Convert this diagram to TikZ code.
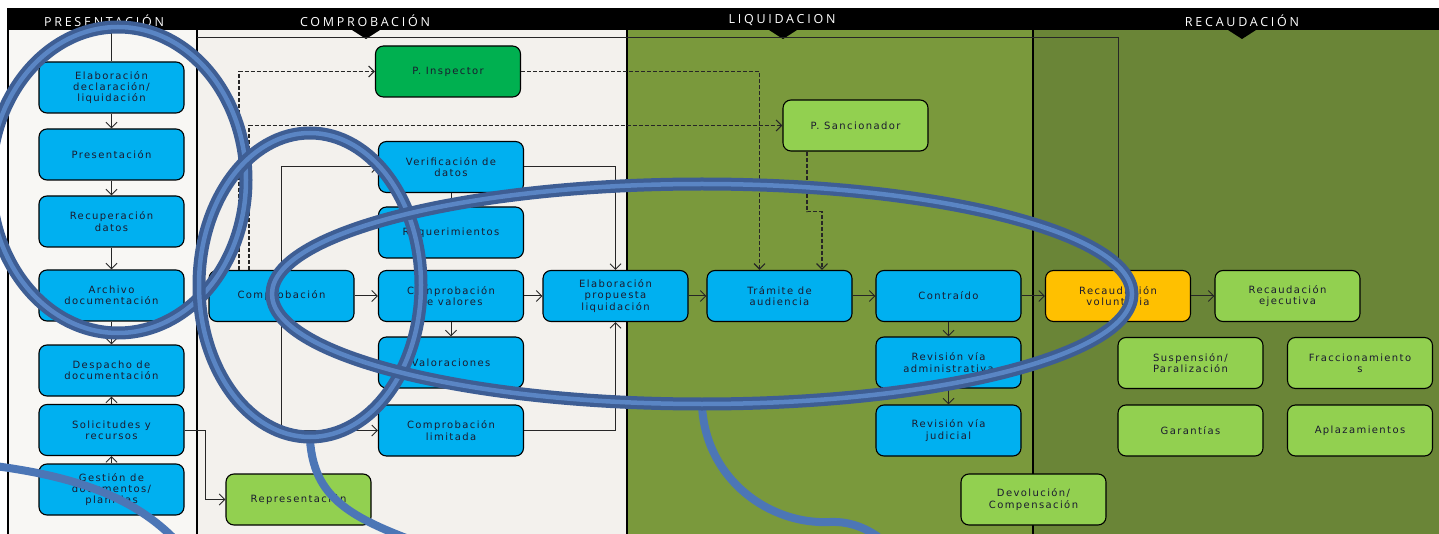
\documentclass[tikz,border=0pt]{standalone}
\usepackage{fontspec}
\setmainfont{DejaVu Sans}
\newfontfamily\boxfont[LetterSpace=14]{DejaVu Sans}
\newfontfamily\headfont[LetterSpace=22]{Open Sans}
\usetikzlibrary{arrows.meta}

\definecolor{lanePres}{HTML}{F8F7F4}
\definecolor{laneComp}{HTML}{F3F1ED}
\definecolor{laneLiq}{HTML}{7A993C}
\definecolor{laneRec}{HTML}{6A8537}
\definecolor{cyanbox}{HTML}{00B0F0}
\definecolor{greenbox}{HTML}{00B050}
\definecolor{limebox}{HTML}{92D050}
\definecolor{orangebox}{HTML}{FFC000}
\definecolor{boxtext}{HTML}{1B1B2F}
\definecolor{ringdark}{HTML}{3E5E94}
\definecolor{ringlight}{HTML}{5A85C4}
\definecolor{tailblue}{HTML}{4C76B6}

\tikzset{
  box/.style={draw=black, line width=1.1pt, rounded corners=8pt,
    minimum width=145pt, minimum height=51pt, inner sep=2pt, align=center,
    text=boxtext, font={\boxfont\fontsize{10}{11.2}\selectfont}},
  bluebox/.style={box, fill=cyanbox},
  greenbx/.style={box, fill=greenbox},
  limebx/.style={box, fill=limebox},
  orangebx/.style={box, fill=orangebox},
  headtext/.style={text=white, font={\headfont\fontsize{12.5}{13}\selectfont}, inner sep=0pt},
  flow/.style={draw=black!85, line width=1pt, -{Straight Barb[length=5.5pt,width=11pt]}},
  plainflow/.style={draw=black!85, line width=1pt},
  dashflow/.style={draw=black!85, line width=1.2pt, dash pattern=on 4pt off 2pt,
    -{Straight Barb[length=5.5pt,width=11pt]}},
  laneline/.style={draw=black, line width=1.3pt},
  ringouter/.style={draw=ringdark, line width=13pt},
  ringinner/.style={draw=ringlight, line width=4.5pt},
  tail/.style={draw=tailblue, line width=8pt, line cap=round},
}

\begin{document}
\begin{tikzpicture}[x=1pt, y=-1pt]
\useasboundingbox (0,0) rectangle (1439,534);
\clip (0,0) rectangle (1439,534);
\fill[white] (0,0) rectangle (1439,534);

% swim lanes
\fill[lanePres] (8,30) rectangle (197,534);
\fill[laneComp] (197,30) rectangle (627,534);
\fill[laneLiq] (627,30) rectangle (1033,534);
\fill[laneRec] (1033,30) rectangle (1439,534);
\draw[laneline] (8,30) -- (8,534);
\draw[laneline] (197,30) -- (197,534);
\draw[laneline] (627,30) -- (627,534);
\draw[laneline] (1033,30) -- (1033,534);

% header bar
\fill[black] (7,8) rectangle (1439,30);
\node[headtext] (hPres) at (104,20.5) {PRESENTACIÓN};
\node[headtext] (hComp) at (365,20.5) {COMPROBACIÓN};
\node[headtext] (hLiq) at (782,20.5) {LIQUIDACION};
\node[headtext] (hRec) at (1242,20.5) {RECAUDACIÓN};
\fill[black] (352,30) -- (380,30) -- (366,39) -- cycle;
\fill[black] (769,30) -- (797,30) -- (783,39) -- cycle;
\fill[black] (1228,30) -- (1256,30) -- (1242,39) -- cycle;

% presentación
\node[bluebox] (elab) at (111.5,87.5) {Elaboración\\declaración/\\liquidación};
\node[bluebox] (pres) at (111.5,154.5) {Presentación};
\node[bluebox] (recu) at (111.5,221.5) {Recuperación\\datos};
\node[bluebox] (arch) at (111.5,295.5) {Archivo\\documentación};
\node[bluebox] (desp) at (111.5,370.5) {Despacho de\\documentación};
\node[bluebox] (soli) at (111.5,430) {Solicitudes y\\recursos};
\node[bluebox] (gest) at (111.5,489.5) {Gestión de\\documentos/\\planillas};

% comprobación
\node[bluebox] (comp) at (281.5,296) {Comprobación};
\node[greenbx] (insp) at (448,71.5) {P. Inspector};
\node[bluebox] (verif) at (451,167) {Verificación de\\datos};
\node[bluebox] (req) at (451,232.5) {Requerimientos};
\node[bluebox] (cval) at (451,296) {Comprobación\\de valores};
\node[bluebox] (valo) at (451,362.5) {Valoraciones};
\node[bluebox] (clim) at (451,430.5) {Comprobación\\limitada};
\node[limebx] (repr) at (298.5,499.5) {Representación};

% liquidación
\node[bluebox] (eprop) at (615.5,296) {Elaboración\\propuesta\\liquidación};
\node[bluebox] (tram) at (779.5,296) {Trámite de\\audiencia};
\node[bluebox] (contr) at (948.5,296) {Contraído};
\node[bluebox] (radm) at (948.5,362.5) {Revisión vía\\administrativa};
\node[bluebox] (rjud) at (948.5,430.5) {Revisión vía\\judicial};
\node[limebx] (sanc) at (855.5,125.5) {P. Sancionador};
\node[limebx] (devo) at (1033.5,499.5) {Devolución/\\Compensación};

% recaudación
\node[orangebx] (rvol) at (1118,296) {Recaudación\\voluntaria};
\node[limebx] (rejec) at (1287.5,296) {Recaudación\\ejecutiva};
\node[limebx] (susp) at (1190.5,363) {Suspensión/\\Paralización};
\node[limebx] (frac) at (1360,363) {Fraccionamiento\\s};
\node[limebx] (gara) at (1190.5,430.5) {Garantías};
\node[limebx] (apla) at (1360,430.5) {Aplazamientos};

% connectors
\coordinate (presTop) at (111.5,30);
\coordinate (compStart) at (197,38);
\draw[plainflow] (presTop) -- (elab.north);
\draw[flow] (compStart) -| (rvol.north);
\draw[flow] (elab) -- (pres);
\draw[flow] (pres) -- (recu);
\draw[flow] (recu) -- (arch);
\draw[flow] (arch) -- (desp);
\draw[flow] (soli) -- (desp);
\draw[flow] (gest) -- (soli);
\draw[flow] (soli.east) -- ++(21,0) |- (repr.west);

\draw[flow] (comp) -- (cval);
\draw[flow] (comp.north) |- (verif.west);
\draw[flow] (comp.south) |- (clim.west);
\draw[flow] (verif) -- (req);
\draw[flow] (cval) -- (valo);
\draw[flow] (cval) -- (eprop);
\draw[flow] (verif.east) -| (eprop.north);
\draw[flow] (clim.east) -| (eprop.south);
\draw[dashflow] ([xshift=-42.5pt]comp.north) |- (insp.west);
\draw[dashflow] ([xshift=-32.5pt]comp.north) |- (sanc.west);
\draw[dashflow] (insp.east) -| ([xshift=-20pt]tram.north);
\draw[dashflow] ([xshift=-48.5pt]sanc.south) -- ++(0,60) -- ++(15,0) -- ([xshift=42.5pt]tram.north);

\draw[flow] (eprop) -- (tram);
\draw[flow] (tram) -- (contr);
\draw[flow] (contr) -- (radm);
\draw[flow] (radm) -- (rjud);
\draw[flow] (contr) -- (rvol);
\draw[flow] (rvol) -- (rejec);

% hand-drawn highlight rings
\draw[tail] (-5,466) .. controls (70,476) and (135,495) .. (180,545);
\draw[tail] (310,440) .. controls (314,498) and (350,518) .. (425,545);
\draw[tail] (702,406) .. controls (706,480) and (770,525) .. (830,522) .. controls (852,521) and (872,530) .. (888,545);
\draw[ringouter] (118,180) ellipse [x radius=128pt, y radius=153pt];
\draw[ringinner] (118,180) ellipse [x radius=128pt, y radius=153pt];
\draw[ringouter] (310,285) ellipse [x radius=111pt, y radius=152pt];
\draw[ringinner] (310,285) ellipse [x radius=111pt, y radius=152pt];
\draw[ringouter] (702,294) ellipse [x radius=430pt, y radius=110pt];
\draw[ringinner] (702,294) ellipse [x radius=430pt, y radius=110pt];
\end{tikzpicture}
\end{document}
